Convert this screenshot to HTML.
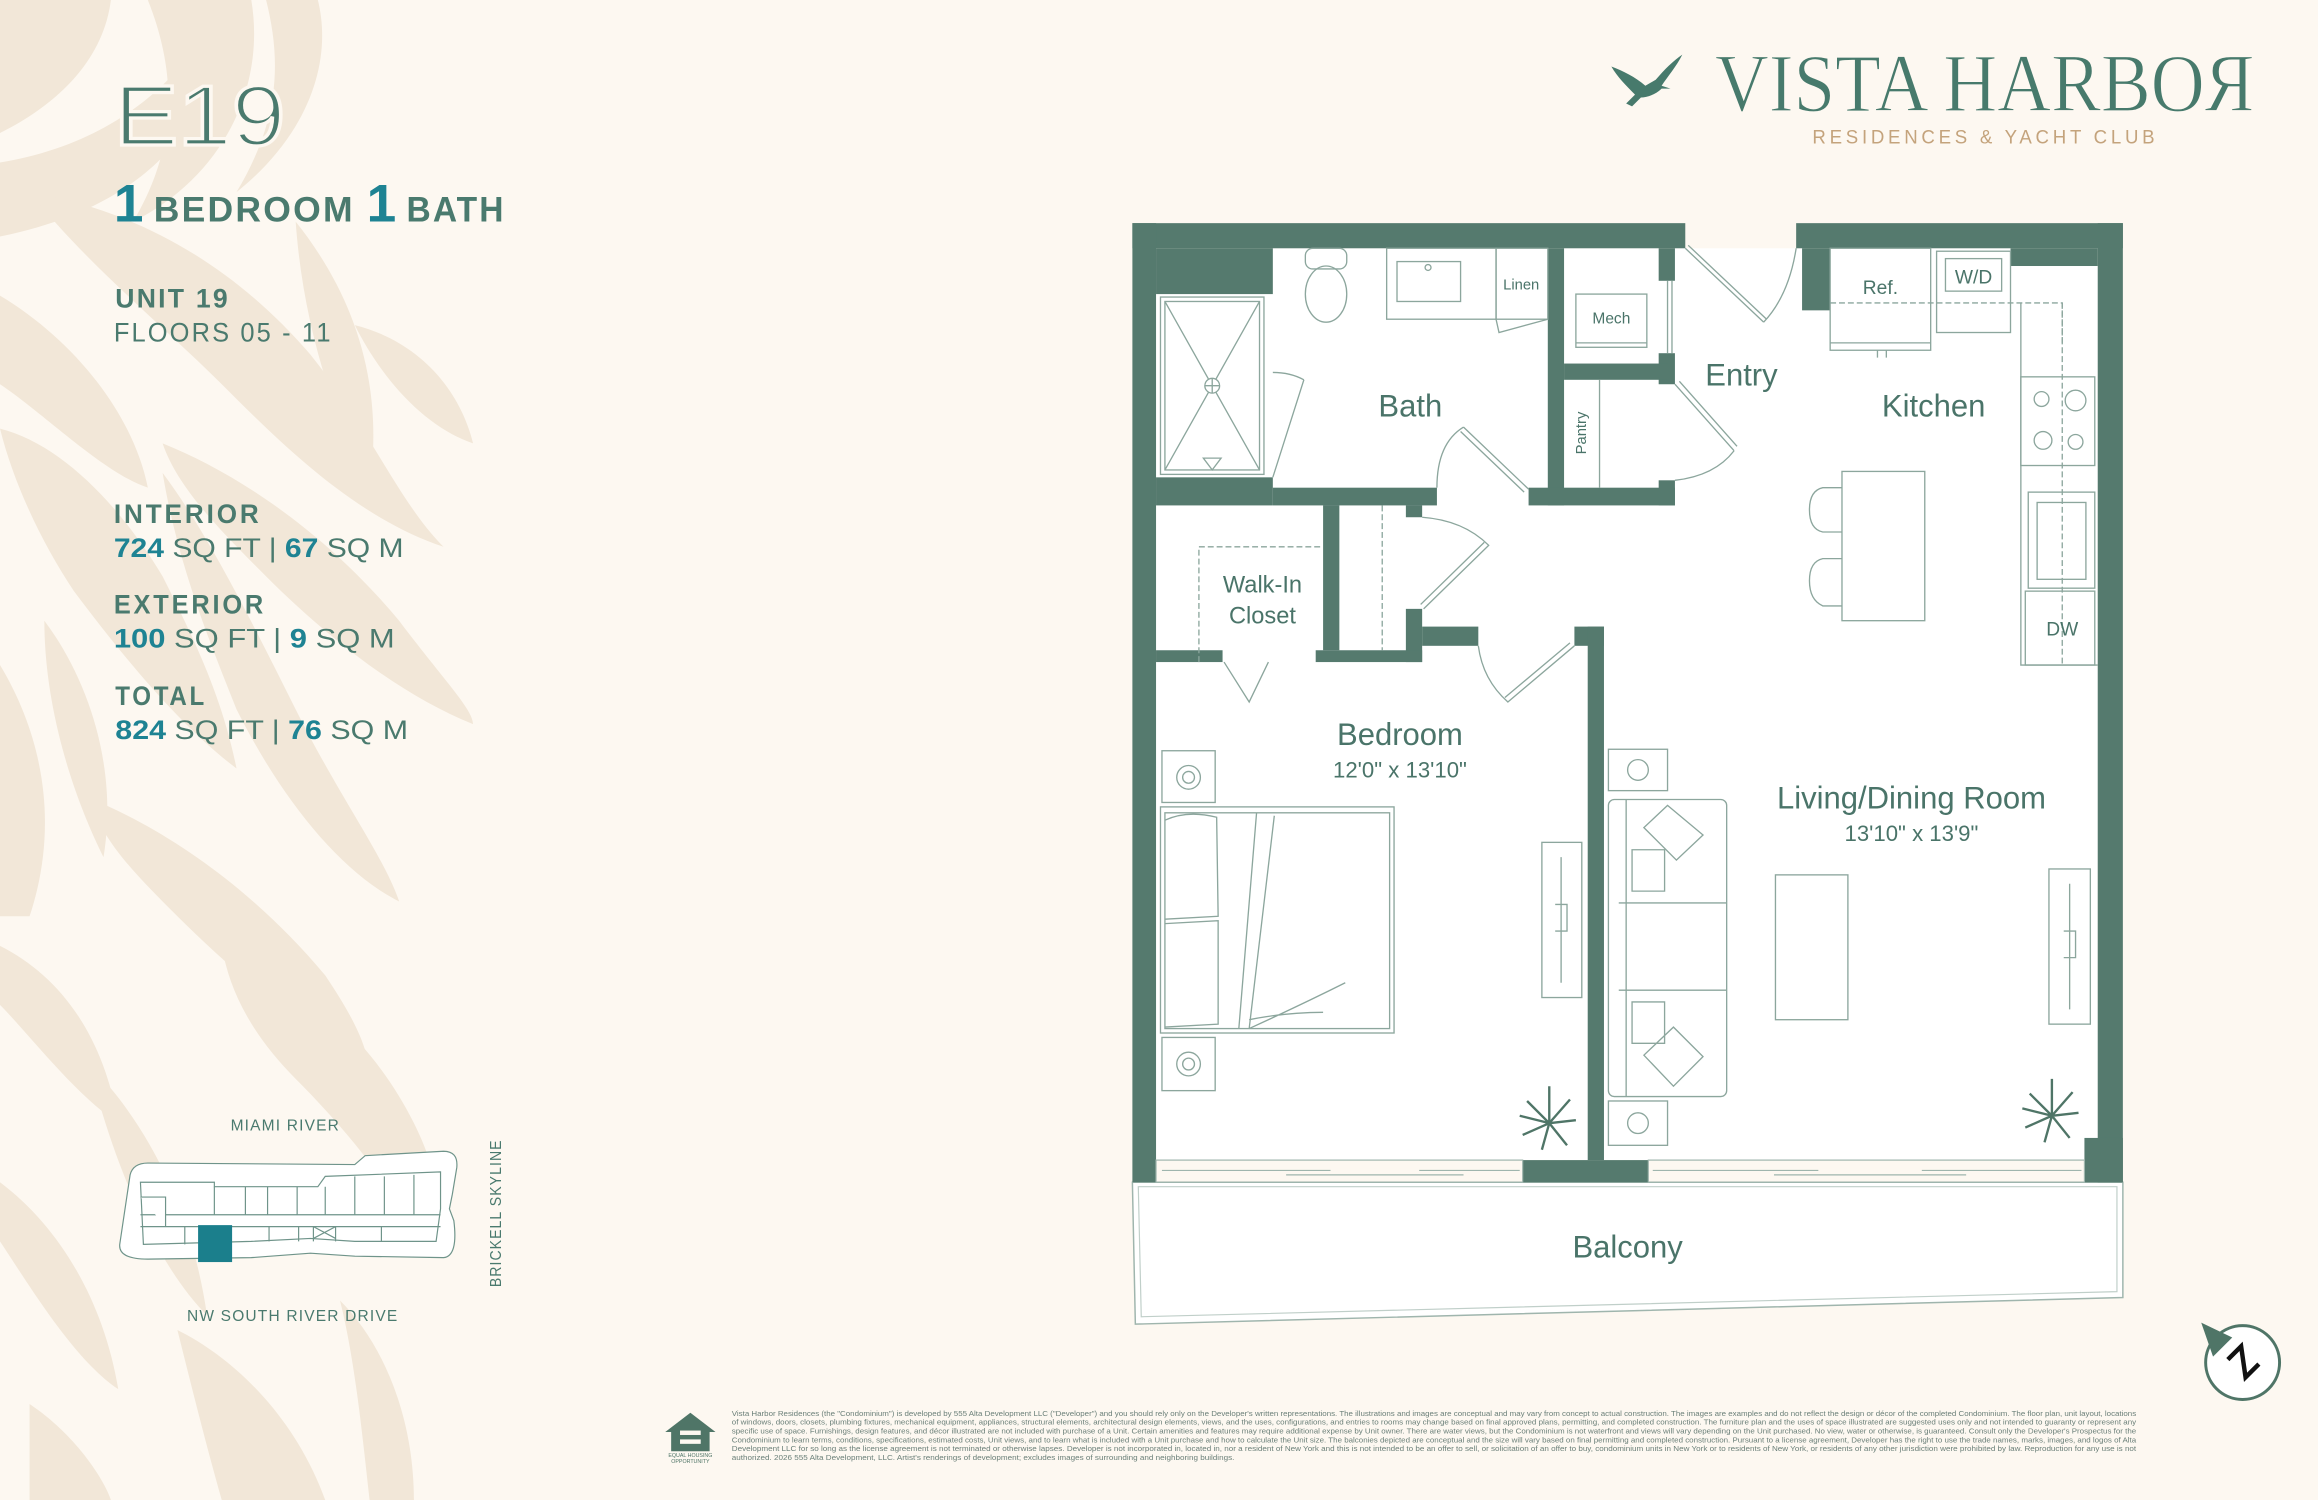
<!DOCTYPE html>
<html><head><meta charset="utf-8"><style>
html,body{margin:0;padding:0;background:#fdf8f1;}
svg{display:block;font-family:"Liberation Sans",sans-serif;}
</style></head><body>
<svg width="2318" height="1500" viewBox="0 0 1568 1015" preserveAspectRatio="none" xmlns="http://www.w3.org/2000/svg">
<rect width="1568" height="1015" fill="#fdf8f1"/>
<!-- leaf background -->
<g fill="#f2e7d8">
<path d="M0,0 L75,0 C70,40 40,70 0,90 Z"/>
<path d="M100,0 L170,0 C180,60 150,120 90,150 C120,100 120,50 100,0 Z"/>
<path d="M180,0 L215,0 C225,40 210,90 160,130 C190,80 190,40 180,0Z"/>
<path d="M0,110 C60,100 110,70 140,20 C150,80 100,140 0,160 Z"/>
<path d="M20,130 C80,140 150,170 210,240 C250,290 270,340 300,370 C240,350 190,300 150,260 C110,220 60,180 20,130Z"/>
<path d="M0,200 C50,230 90,280 100,330 C70,320 30,280 0,260 Z"/>
<path d="M90,190 C140,200 190,230 230,280 C200,280 150,250 120,230Z"/>
<path d="M200,150 C240,200 260,260 250,330 C225,280 205,220 200,150Z"/>
<path d="M0,290 C40,300 80,340 110,390 C130,430 150,470 160,520 C120,490 80,440 50,400 C30,370 10,330 0,290Z"/>
<path d="M110,300 C160,320 220,360 270,420 C300,460 320,480 320,490 C270,470 220,430 180,390 C150,360 120,330 110,300Z"/>
<path d="M30,420 C60,460 80,520 70,580 C50,540 30,480 30,420Z"/>
<path d="M0,450 C30,500 40,560 20,620 L0,620Z"/>
<path d="M110,320 C140,360 170,420 200,480 C230,540 260,580 270,610 C230,590 190,540 160,480 C140,430 120,380 110,320Z"/>
<path d="M60,540 C110,560 170,600 220,660 C240,690 250,710 250,730 C210,700 160,660 120,620 C90,590 70,570 60,540Z"/>
<path d="M0,640 C40,660 70,700 80,760 C50,740 20,700 0,680Z"/>
<path d="M150,640 C200,660 250,700 280,760 C300,800 300,830 290,850 C270,810 240,770 200,730 C170,700 155,670 150,640Z"/>
<path d="M60,720 C100,760 130,820 140,890 C110,860 80,800 60,720Z"/>
<path d="M0,800 C40,830 70,880 80,940 C50,920 20,870 0,840Z"/>
<path d="M120,900 C160,920 200,960 220,1015 L150,1015 C140,980 130,940 120,900Z"/>
<path d="M20,950 C50,970 70,1000 75,1015 L20,1015Z"/>
<path d="M230,880 C260,910 280,960 280,1015 L250,1015 C245,970 240,920 230,880Z"/>
<path d="M240,220 C280,230 310,260 320,300 C290,290 260,260 240,220Z"/>
</g>
<!-- left texts -->
<text x="77" y="98" font-size="58" fill="#4a7a6e" stroke="#fdf8f1" stroke-width="2.2" paint-order="normal" textLength="116" lengthAdjust="spacingAndGlyphs">E19</text>
<text x="77" y="150" font-size="36" font-weight="bold" fill="#1e8393">1</text>
<text x="104" y="150" font-size="24" font-weight="bold" fill="#4a7a6e" letter-spacing="1.5" textLength="136" lengthAdjust="spacingAndGlyphs">BEDROOM</text>
<text x="248" y="150" font-size="36" font-weight="bold" fill="#1e8393">1</text>
<text x="275" y="150" font-size="24" font-weight="bold" fill="#4a7a6e" letter-spacing="1.5" textLength="67" lengthAdjust="spacingAndGlyphs">BATH</text>
<g fill="#4a7a6e" font-size="18">
<text x="78" y="208" font-weight="bold" letter-spacing="1.5">UNIT 19</text>
<text x="77" y="231" letter-spacing="1.5" textLength="148" lengthAdjust="spacingAndGlyphs">FLOORS 05 - 11</text>
<text x="77" y="354" font-weight="bold" letter-spacing="2" textLength="100" lengthAdjust="spacingAndGlyphs">INTERIOR</text>
<text x="77" y="377" textLength="196" lengthAdjust="spacingAndGlyphs"><tspan font-weight="bold" fill="#1e8393">724</tspan> SQ FT | <tspan font-weight="bold" fill="#1e8393">67</tspan> SQ M</text>
<text x="77" y="415" font-weight="bold" letter-spacing="2" textLength="103" lengthAdjust="spacingAndGlyphs">EXTERIOR</text>
<text x="77" y="438" textLength="190" lengthAdjust="spacingAndGlyphs"><tspan font-weight="bold" fill="#1e8393">100</tspan> SQ FT | <tspan font-weight="bold" fill="#1e8393">9</tspan> SQ M</text>
<text x="78" y="477" font-weight="bold" letter-spacing="2" textLength="62" lengthAdjust="spacingAndGlyphs">TOTAL</text>
<text x="78" y="500" textLength="198" lengthAdjust="spacingAndGlyphs"><tspan font-weight="bold" fill="#1e8393">824</tspan> SQ FT | <tspan font-weight="bold" fill="#1e8393">76</tspan> SQ M</text>
</g>
<!-- key plan -->
<g fill="#4a7a6e" font-size="10.5" letter-spacing="0.8">
<text x="193" y="765" text-anchor="middle">MIAMI RIVER</text>
<text x="198" y="894" text-anchor="middle">NW SOUTH RIVER DRIVE</text>
<text transform="translate(339,821) rotate(-90)" text-anchor="middle" textLength="100" lengthAdjust="spacingAndGlyphs">BRICKELL SKYLINE</text>
</g>
<g fill="#fff" stroke="#6f948a" stroke-width="0.8">
<path d="M88,795 Q90,787 100,787 L240,788 L247,782 L300,779 Q310,779 309,790 L306,808 L304,818 L307,826 Q310,850 300,851 L240,850 L210,848 L170,851 L100,852 Q80,852 81,842 Z"/>
<path d="M95,800 L145,800 L145,803 L215,803 L220,796 L298,793 L298,818 L295,840 L240,840 L210,838 L170,840 L97,842 Z"/>
<path d="M145,803 V822 M166,803 V822 M181,803 V822 M201,803 V822 M220,803 V822 M240,796 V822 M260,796 V822 M280,795 V822 M95,822 H298 M95,830 H298"/>
<path d="M95,810 H112 V830 M182,830 V840 M202,830 V840 M212,830 V840 M227,830 V840 M258,830 V840 M125,830 V842"/>
<path d="M212,830 L227,838 M227,830 L212,838"/>
</g>
<rect x="134" y="829" width="23" height="25" fill="#1b7f8c"/>
<!-- logo -->
<g fill="#477a6c">
<path d="M1090,45 C1098,48 1106,52 1113,58 L1120,54 C1126,47 1132,41 1138,37 C1134,45 1128,52 1124,58 L1130,60 L1124,60 C1120,64 1114,66 1110,66 L1104,72 L1100,70 L1106,64 C1100,58 1094,52 1090,45Z"/>
</g>
<text x="1160" y="75" style="font-family:'Liberation Serif',serif" font-size="56" fill="#477a6c" stroke="#fdf8f1" stroke-width="0.8" textLength="365" lengthAdjust="spacingAndGlyphs">VISTA HARBOЯ</text>
<text x="1226" y="97" font-size="13" fill="#c4a37c" letter-spacing="2.6" textLength="234" lengthAdjust="spacingAndGlyphs">RESIDENCES &amp; YACHT CLUB</text>
<!-- floor plan interior -->
<rect x="782" y="168" width="637" height="617" fill="#ffffff"/>
<!-- balcony -->
<path d="M766,800 L1436,800 L1436,878 L768,896 Z" fill="#fff" stroke="#9fb5ad" stroke-width="1"/>
<path d="M770,803 L1432,803 L1432,874 L772,891 Z" fill="none" stroke="#c0cfc9" stroke-width="0.8"/>
<text x="1101" y="851" font-size="21" fill="#4a7469" text-anchor="middle">Balcony</text>
<!-- walls -->
<g fill="#557a6e">
<rect x="766" y="151" width="374" height="17"/>
<rect x="1215" y="151" width="221" height="17"/>
<rect x="766" y="151" width="16" height="649"/>
<rect x="1419" y="151" width="17" height="649"/>
<rect x="1410" y="770" width="26" height="30"/>
<rect x="1360" y="168" width="59" height="12"/>
<rect x="782" y="168" width="79" height="31"/>
<rect x="1219" y="168" width="19" height="42"/>
<rect x="782" y="323" width="79" height="19"/>
<rect x="861" y="330" width="111" height="12"/>
<rect x="1047" y="168" width="11" height="174"/>
<rect x="1034" y="330" width="99" height="12"/>
<rect x="1122" y="168" width="11" height="22"/>
<rect x="1122" y="239" width="11" height="21"/>
<rect x="1122" y="325" width="11" height="17"/>
<rect x="1058" y="246" width="70" height="11"/>
<rect x="895" y="342" width="11" height="98"/>
<rect x="951" y="342" width="11" height="8"/>
<rect x="951" y="412" width="11" height="36"/>
<rect x="782" y="440" width="45" height="8"/>
<rect x="890" y="440" width="72" height="8"/>
<rect x="962" y="424" width="38" height="13"/>
<rect x="1065" y="424" width="20" height="13"/>
<rect x="1074" y="424" width="11" height="361"/>
<rect x="1030" y="785" width="85" height="15"/>
</g>
<!-- windows -->
<g stroke="#9fb5ad" stroke-width="0.8" fill="none">
<rect x="782" y="785" width="248" height="15"/>
<rect x="1115" y="785" width="295" height="15"/>
<path d="M786,792 H900 M870,795 H990 M960,792 H1028 M1118,792 H1230 M1200,795 H1330 M1300,792 H1408"/>
</g>
<!-- fixtures & doors -->
<g stroke="#8ca69d" stroke-width="0.9" fill="none">
<rect x="785" y="201" width="70" height="120"/>
<rect x="788" y="204" width="64" height="114"/>
<path d="M788,204 L852,318 M852,204 L788,318"/>
<circle cx="820" cy="261" r="5" fill="#fff"/><path d="M815,261 H825 M820,256 V266"/>
<path d="M814,310 L826,310 L820,318 Z"/>
<path d="M861,323 L882,257 M861,252 Q873,252 882,257"/>
<rect x="883" y="168" width="28" height="14" rx="5"/>
<ellipse cx="897" cy="199" rx="14" ry="19"/>
<rect x="938" y="168" width="74" height="48"/>
<rect x="945" y="177" width="43" height="27"/>
<circle cx="966" cy="181" r="2"/>
<rect x="1012" y="168" width="35" height="48"/>
<path d="M1012,216 L1014,225 L1047,216"/>
<path d="M972,330 Q972,300 990,289"/>
<path d="M990,289 L1034,331 M988,292 L1031,333"/>
<rect x="1066" y="199" width="48" height="36"/>
<path d="M1066,232 H1114"/>
<path d="M1082,257 V330"/>
<path d="M1128,190 V239 M1131,190 V239"/>
<path d="M1140,168 L1193,218 M1142,166 L1195,216 M1193,218 Q1210,200 1215,168"/>
<path d="M1133,260 L1173,305 M1136,258 L1175,302 M1173,305 Q1160,322 1133,325"/>
<path d="M811,448 V370 H895" stroke-dasharray="4,2"/>
<path d="M935,342 V440" stroke-dasharray="4,2"/>
<path d="M962,350 Q990,352 1007,369 L963,412 M1004,367 L961,409"/>
<path d="M828,448 L845,475 L858,448"/>
<path d="M1000,437 Q1003,460 1020,475 L1065,437 M1018,472 L1062,435"/>
<!-- kitchen -->
<rect x="1238" y="168" width="68" height="69"/>
<path d="M1238,205 H1395 V232" stroke-dasharray="4,2"/>
<path d="M1238,232 H1306 M1270,237 V242 M1276,237 V242"/>
<rect x="1310" y="170" width="50" height="55"/>
<rect x="1316" y="175" width="38" height="22"/>
<path d="M1367,205 V450 H1419"/>
<rect x="1367" y="255" width="50" height="60"/>
<circle cx="1381" cy="270" r="5"/><circle cx="1404" cy="271" r="7"/>
<circle cx="1382" cy="298" r="6"/><circle cx="1404" cy="299" r="5"/>
<rect x="1372" y="333" width="45" height="65"/>
<rect x="1378" y="340" width="33" height="52"/>
<rect x="1370" y="400" width="47" height="50"/>
<path d="M1395,205 V450" stroke-dasharray="4,2"/>
<rect x="1246" y="319" width="56" height="101"/>
<path d="M1246,330 H1233 Q1224,332 1224,345 Q1224,358 1233,360 H1246"/>
<path d="M1246,378 H1233 Q1224,380 1224,393 Q1224,406 1233,410 H1246"/>
<!-- bedroom furniture -->
<rect x="786" y="508" width="36" height="35"/>
<circle cx="804" cy="526" r="8"/><circle cx="804" cy="526" r="4"/>
<rect x="786" y="702" width="36" height="36"/>
<circle cx="804" cy="720" r="8"/><circle cx="804" cy="720" r="4"/>
<rect x="785" y="546" width="158" height="153"/>
<rect x="788" y="550" width="152" height="146"/>
<path d="M788,555 Q803,548 823,553 L824,620 L788,622 M788,625 L824,623 L824,693 L788,695"/>
<path d="M850,550 L838,696 M862,552 L845,696 M845,696 Q880,680 910,665 M845,690 Q870,685 895,685"/>
<rect x="1043" y="570" width="27" height="105"/>
<path d="M1056,580 V665 M1052,612 H1060 V630 H1052"/>
<!-- living furniture -->
<rect x="1088" y="507" width="40" height="28"/>
<circle cx="1108" cy="521" r="7"/>
<rect x="1088" y="745" width="40" height="30"/>
<circle cx="1108" cy="760" r="7"/>
<rect x="1088" y="541" width="80" height="201" rx="4"/>
<path d="M1100,541 V742 M1095,611 H1168 M1095,670 H1168"/>
<path d="M1112,560 L1128,545 L1152,565 L1134,582 Z M1104,575 H1126 V603 H1104 Z"/>
<path d="M1104,678 H1126 V706 H1104 Z M1112,714 L1132,695 L1152,715 L1132,735 Z"/>
<rect x="1201" y="592" width="49" height="98"/>
<rect x="1386" y="588" width="28" height="105"/>
<path d="M1400,598 V683 M1396,630 H1404 V648 H1396"/>
</g>
<!-- plants -->
<g stroke="#4f7567" stroke-width="1.6" fill="none">
<path d="M1048,760 l-20,-5 M1048,760 l-18,8 M1048,760 l-5,18 M1048,760 l12,15 M1048,760 l18,-2 M1048,760 l14,-16 M1048,760 l0,-25 M1048,760 l-15,-15"/>
<path d="M1388,755 l-20,-5 M1388,755 l-18,8 M1388,755 l-5,18 M1388,755 l12,15 M1388,755 l18,-2 M1388,755 l14,-16 M1388,755 l0,-25 M1388,755 l-15,-15"/>
</g>
<!-- labels -->
<g fill="#4a7469" text-anchor="middle">
<text x="954" y="282" font-size="21">Bath</text>
<text x="1178" y="261" font-size="21">Entry</text>
<text x="1308" y="282" font-size="21">Kitchen</text>
<text x="1090" y="219" font-size="10.5">Mech</text>
<text x="1029" y="196" font-size="10">Linen</text>
<text transform="translate(1073,293) rotate(-90)" font-size="10">Pantry</text>
<text x="1272" y="199" font-size="13">Ref.</text>
<text x="1335" y="192" font-size="13">W/D</text>
<text x="1395" y="430" font-size="13">DW</text>
<text x="854" y="401" font-size="16">Walk-In</text>
<text x="854" y="422" font-size="16">Closet</text>
<text x="947" y="504" font-size="21">Bedroom</text>
<text x="947" y="526" font-size="15">12'0" x 13'10"</text>
<text x="1293" y="547" font-size="21">Living/Dining Room</text>
<text x="1293" y="569" font-size="15">13'10" x 13'9"</text>
</g>
<!-- compass -->
<circle cx="1517" cy="922" r="25" fill="#fff" stroke="#4f7567" stroke-width="2"/>
<path d="M1489,895 L1510,905 L1497,918 Z" fill="#4f7567"/>
<path d="M1507,920 L1516,911 L1519,932 L1528,923" stroke="#111" stroke-width="3" fill="none"/>
<!-- equal housing -->
<path d="M450,969 L467,956 L484,969 L480,969 L480,982 L454,982 L454,969 Z" fill="#4f7567"/>
<rect x="460" y="968" width="14" height="3" fill="#fdf8f1"/>
<rect x="460" y="974" width="14" height="3" fill="#fdf8f1"/>
<text x="467" y="986" font-size="3.6" fill="#4f7567" text-anchor="middle">EQUAL HOUSING</text>
<text x="467" y="990" font-size="3.6" fill="#4f7567" text-anchor="middle">OPPORTUNITY</text>
<g font-size="5" fill="#6a7f78">
<text x="495" y="958" textLength="950" lengthAdjust="spacingAndGlyphs">Vista Harbor Residences (the "Condominium") is developed by 555 Alta Development LLC ("Developer") and you should rely only on the Developer's written representations. The illustrations and images are conceptual and may vary from concept to actual construction. The images are examples and do not reflect the design or décor of the completed Condominium. The floor plan, unit layout, locations</text>
<text x="495" y="964" textLength="950" lengthAdjust="spacingAndGlyphs">of windows, doors, closets, plumbing fixtures, mechanical equipment, appliances, structural elements, architectural design elements, views, and the uses, configurations, and entries to rooms may change based on final approved plans, permitting, and completed construction. The furniture plan and the uses of space illustrated are suggested uses only and not intended to guaranty or represent any</text>
<text x="495" y="970" textLength="950" lengthAdjust="spacingAndGlyphs">specific use of space. Furnishings, design features, and décor illustrated are not included with purchase of a Unit. Certain amenities and features may require additional expense by Unit owner. There are water views, but the Condominium is not waterfront and views will vary depending on the Unit purchased. No view, water or otherwise, is guaranteed. Consult only the Developer's Prospectus for the</text>
<text x="495" y="976" textLength="950" lengthAdjust="spacingAndGlyphs">Condominium to learn terms, conditions, specifications, estimated costs, Unit views, and to learn what is included with a Unit purchase and how to calculate the Unit size. The balconies depicted are conceptual and the size will vary based on final permitting and completed construction. Pursuant to a license agreement, Developer has the right to use the trade names, marks, images, and logos of Alta</text>
<text x="495" y="982" textLength="950" lengthAdjust="spacingAndGlyphs">Development LLC for so long as the license agreement is not terminated or otherwise lapses. Developer is not incorporated in, located in, nor a resident of New York and this is not intended to be an offer to sell, or solicitation of an offer to buy, condominium units in New York or to residents of New York, or residents of any other jurisdiction were prohibited by law. Reproduction for any use is not</text>
<text x="495" y="988" textLength="340" lengthAdjust="spacingAndGlyphs">authorized. 2026 555 Alta Development, LLC. Artist's renderings of development; excludes images of surrounding and neighboring buildings.</text>
</g>
</svg>
</body></html>
